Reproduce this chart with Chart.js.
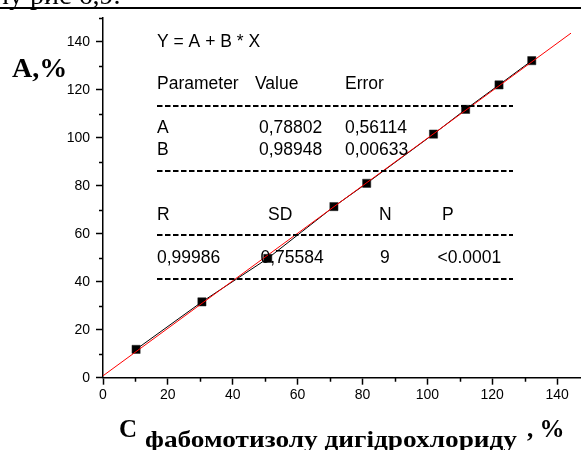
<!DOCTYPE html>
<html>
<head>
<meta charset="utf-8">
<script src="https://cdn.jsdelivr.net/npm/chart.js@4.4.1/dist/chart.umd.min.js"></script>
<style>
  html, body { margin: 0; padding: 0; background: #fff; overflow: hidden; }
  #wrap { position: relative; width: 600px; height: 450px; }
</style>
</head>
<body>
<div id="wrap"><canvas id="calib" width="600" height="450"></canvas></div>
<script>
// Calibration points: found content (X) vs. declared content (Y), %
const X_VALUES = [10.2, 30.5, 50.8, 71.2, 81.3, 101.9, 111.8, 122.1, 132.2];
const Y_VALUES = [11.8, 31.6, 49.7, 71.3, 81.0, 101.5, 111.8, 122.0, 132.1];

// Linear fit Y = A + B * X
const FIT_A = 0.78802;
const FIT_B = 0.98948;
const FIT_X_RANGE = [0, 144.3];

// Axis ranges and tick labels
const AXIS_MAX = 150;
const TICK_STEP = 10;
const LABEL_STEP = 20;

// Fit report
const PARAM_HEADER = ['Parameter', 'Value', 'Error'];
const PARAM_ROWS = [
  ['A', '0,78802', '0,56114'],
  ['B', '0,98948', '0,00633']
];
const STAT_HEADER = ['R', 'SD', 'N', 'P'];
const STAT_VALUES = ['0,99986', '0,75584', '9', '<0.0001'];

const SANS = '"Liberation Sans", Arial, sans-serif';
const SERIF = '"Liberation Serif", "Times New Roman", serif';

const points = X_VALUES.map((x, i) => ({ x, y: Y_VALUES[i] }));
const fitLine = FIT_X_RANGE.map(x => ({ x, y: FIT_A + FIT_B * x }));

const isMajor = v => Math.abs(v % LABEL_STEP) < 1e-6;

// Short minor ticks (Chart.js only knows one tick length)
const minorTicks = {
  id: 'minorTicks',
  afterDatasetsDraw(chart) {
    const { ctx, scales: { x, y } } = chart;
    ctx.save();
    ctx.strokeStyle = '#000';
    ctx.lineWidth = 1.5;
    ctx.beginPath();
    for (let v = TICK_STEP; v <= AXIS_MAX; v += LABEL_STEP) {
      const px = Math.round(x.getPixelForValue(v)) + 0.5;
      ctx.moveTo(px, x.top);
      ctx.lineTo(px, x.top + 4);
      const py = Math.round(y.getPixelForValue(v)) + 0.5;
      ctx.moveTo(y.right, py);
      ctx.lineTo(y.right - 4, py);
    }
    ctx.stroke();
    ctx.restore();
  }
};

// Fit report box, axis titles and the page rule above the figure
const textLayer = {
  id: 'textLayer',
  afterDraw(chart) {
    const ctx = chart.ctx;
    ctx.save();
    ctx.fillStyle = '#000';
    ctx.textAlign = 'left';
    ctx.textBaseline = 'alphabetic';

    // tail of the preceding text line
    ctx.font = '28px ' + SERIF;
    ctx.fillText('ну рис 6,9.', -6, 4);
    ctx.fillRect(0, 7, 600, 2);

    ctx.font = '17.5px ' + SANS;
    ctx.fillText('Y = A + B * X', 157, 47);

    const headX = [157, 255, 345];
    PARAM_HEADER.forEach((t, i) => ctx.fillText(t, headX[i], 88.5));
    const rowX = [157, 259, 345];
    const rowY = [133, 154.5];
    PARAM_ROWS.forEach((row, r) => row.forEach((t, i) => ctx.fillText(t, rowX[i], rowY[r])));

    const statHeadX = [157, 268, 379, 442];
    STAT_HEADER.forEach((t, i) => ctx.fillText(t, statHeadX[i], 219.5));
    const statValX = [157, 260.5, 380, 437.5];
    STAT_VALUES.forEach((t, i) => ctx.fillText(t, statValX[i], 263));

    ctx.strokeStyle = '#000';
    ctx.lineWidth = 2;
    ctx.setLineDash([5.5, 2.5]);
    [106, 171, 235, 279].forEach(ly => {
      ctx.beginPath();
      ctx.moveTo(157, ly);
      ctx.lineTo(513, ly);
      ctx.stroke();
    });
    ctx.setLineDash([]);

    // y title
    ctx.font = 'bold 28px ' + SERIF;
    ctx.fillText('A,%', 12, 77);

    // x title with subscript
    ctx.font = 'bold 25px ' + SERIF;
    ctx.fillText('C', 119, 437);
    const sub = 'фабомотизолу дигідрохлориду';
    ctx.font = 'bold 24px ' + SERIF;
    const w = ctx.measureText(sub).width;
    ctx.save();
    ctx.translate(145, 447);
    ctx.scale(372 / w, 1);
    ctx.fillText(sub, 0, 0);
    ctx.restore();
    ctx.font = 'bold 25px ' + SERIF;
    ctx.fillText(', %', 527, 437);

    ctx.restore();
  }
};

const tickOpts = {
  min: 0,
  max: AXIS_MAX,
  ticks: {
    stepSize: TICK_STEP,
    autoSkip: false,
    maxRotation: 0,
    color: '#000',
    font: { family: SANS, size: 14 },
    callback: v => (isMajor(v) ? String(v) : '')
  },
  grid: {
    drawOnChartArea: false,
    drawTicks: true,
    tickLength: 7,
    tickWidth: 1.5,
    tickColor: c => (isMajor(c.tick.value) ? '#000' : 'rgba(0,0,0,0)')
  },
  border: { display: true, color: '#000', width: 1.5 }
};

new Chart(document.getElementById('calib'), {
  type: 'scatter',
  data: {
    datasets: [
      {
        label: 'fit',
        data: fitLine,
        showLine: true,
        borderColor: '#ff0000',
        borderWidth: 1,
        pointRadius: 0,
        order: 0
      },
      {
        label: 'data',
        data: points,
        showLine: true,
        borderColor: '#000',
        borderWidth: 1,
        pointStyle: 'rect',
        pointRadius: 5.8,
        pointBackgroundColor: '#000',
        pointBorderColor: '#222',
        pointBorderWidth: 0.5,
        order: 1
      }
    ]
  },
  options: {
    responsive: false,
    animation: false,
    layout: { padding: { top: 17.7, left: 0, right: 10.5, bottom: 0 } },
    plugins: {
      legend: { display: false },
      tooltip: { enabled: false }
    },
    scales: {
      x: {
        type: 'linear',
        position: 'bottom',
        ...tickOpts,
        ticks: { ...tickOpts.ticks, padding: 2 },
        afterFit: s => { s.height = 72.3; }
      },
      y: {
        type: 'linear',
        position: 'left',
        ...tickOpts,
        ticks: { ...tickOpts.ticks, padding: 6 },
        afterFit: s => { s.width = 103; }
      }
    }
  },
  plugins: [minorTicks, textLayer]
});
</script>
</body>
</html>
